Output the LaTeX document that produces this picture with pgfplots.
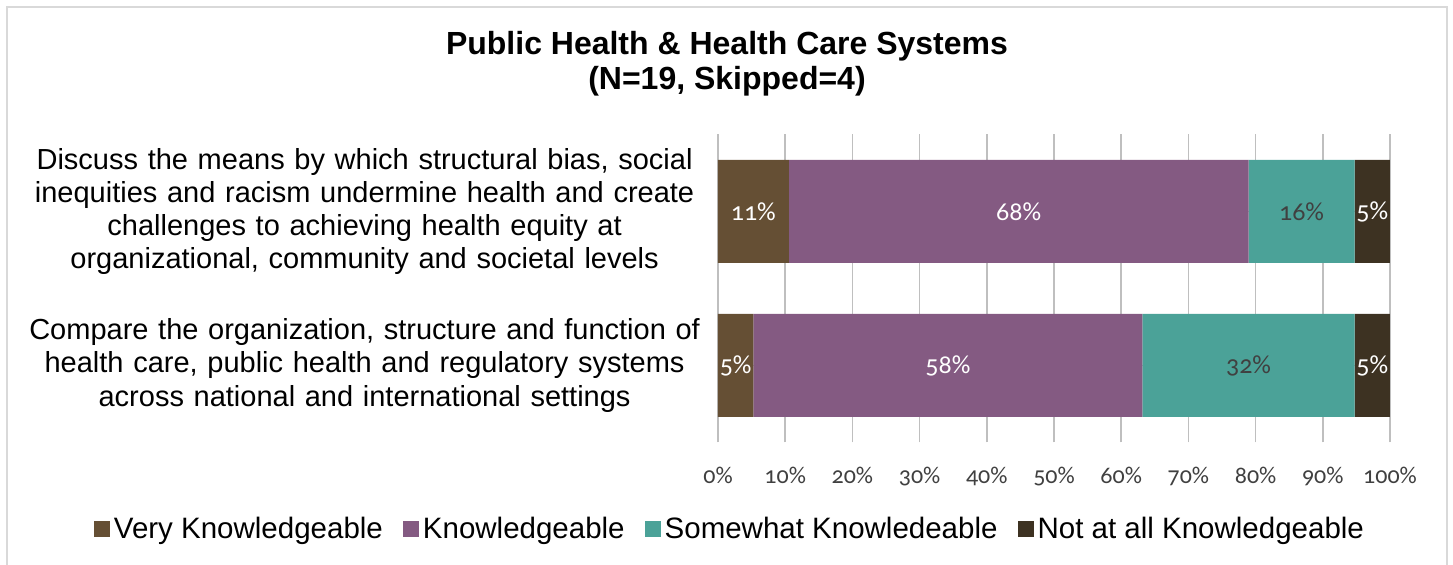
\documentclass[border=0pt]{standalone}
\usepackage{fontspec}
\setmainfont{Liberation Sans}
\newfontfamily\numfont[Numbers=OldStyle]{Carlito}
\usepackage{pgfplots}
\pgfplotsset{compat=1.18}
\definecolor{cVK}{HTML}{654F34}
\definecolor{cK}{HTML}{845A82}
\definecolor{cSK}{HTML}{4BA298}
\definecolor{cNK}{HTML}{3D3222}
\definecolor{grid}{HTML}{D9D9D9}
\definecolor{lab}{HTML}{404040}
\begin{document}
\begin{tikzpicture}
\useasboundingbox (0,0) rectangle (726.5pt,282.5pt);
\draw[grid, line width=1pt] (3.5pt,-2pt) -- (3.5pt,279pt) -- (723.5pt,279pt) -- (723.5pt,-2pt);
\node[align=center, font=\bfseries\fontsize{16}{17.5}\selectfont, inner sep=0pt] at (363.5pt,250.75pt)
  {Public Health \& Health Care Systems\\(N=19, Skipped=4)};
\begin{axis}[
  at={(359pt,61.25pt)}, anchor=south west,
  scale only axis, width=336pt, height=154pt,
  xbar stacked, bar width=51.5pt,
  xmin=0, xmax=100, ymin=-0.5, ymax=1.5,
  xtick={0,10,...,100},
  xticklabels={0\%,10\%,20\%,30\%,40\%,50\%,60\%,70\%,80\%,90\%,100\%},
  ytick={0,1},
  yticklabels={{Compare the organization, structure and function of\\health care, public health and regulatory systems\\across national and international settings},
               {Discuss the means by which structural bias, social\\inequities and racism undermine health and create\\challenges to achieving health equity at\\organizational, community and societal levels}},
  yticklabel style={text width=353pt, align=center, inner sep=0pt, font=\fontsize{14.5}{16.6}\selectfont},
  xticklabel style={font=\numfont\fontsize{12}{14}\selectfont, text=lab, anchor=base, inner sep=0pt, yshift=-20.5pt},
  xmajorgrids, grid style={grid, line width=0.75pt},
  axis line style={draw=none}, major tick length=0pt,
  legend columns=4,
  legend image code/.code={\fill[#1] (0pt,-4pt) rectangle (8pt,4pt);},
  legend style={at={(rel axis cs:0.0193,-0.281)}, anchor=center, draw=none, fill=none,
    font=\fontsize{14.75}{16}\selectfont, inner sep=0pt,
    nodes={inner sep=1.75pt},
    /tikz/every even column/.append style={column sep=8.5pt}},
]
\addplot[fill=cVK, draw=none] coordinates {(5.26,0) (10.53,1)};
\addplot[fill=cK, draw=none] coordinates {(57.89,0) (68.42,1)};
\addplot[fill=cSK, draw=none] coordinates {(31.58,0) (15.79,1)};
\addplot[fill=cNK, draw=none] coordinates {(5.26,0) (5.26,1)};
\legend{Very Knowledgeable, Knowledgeable, Somewhat Knowledeable, Not at all Knowledgeable}
\end{axis}
\begin{axis}[
  at={(359pt,61.25pt)}, anchor=south west,
  scale only axis, width=336pt, height=154pt,
  xmin=0, xmax=100, ymin=-0.5, ymax=1.5, hide axis,
]
\addplot[draw=none, nodes near coords, point meta=explicit symbolic,
  every node near coord/.append style={anchor=center, text=white, font=\numfont\fontsize{13}{15}\selectfont}]
  coordinates {(5.26,1) [11\%] (44.74,1) [68\%] (97.37,1) [5\%]
               (2.63,0) [5\%] (34.21,0) [58\%] (97.37,0) [5\%]};
\addplot[draw=none, nodes near coords, point meta=explicit symbolic,
  every node near coord/.append style={anchor=center, text=lab, font=\numfont\fontsize{13}{15}\selectfont}]
  coordinates {(86.84,1) [16\%] (78.95,0) [32\%]};
\end{axis}
\end{tikzpicture}
\end{document}
